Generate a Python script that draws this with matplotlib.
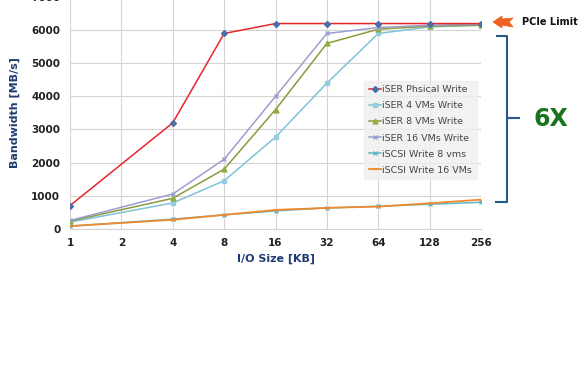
import numpy as np
import matplotlib.pyplot as plt
from matplotlib.patches import Polygon
from matplotlib.path import Path
from matplotlib.patches import PathPatch

sizes = ["1", "2", "4", "8", "16", "32", "64", "128", "256"]
measured = ["1", "4", "8", "16", "32", "64", "128", "256"]

iser_phys = [700, 3200, 5900, 6200, 6200, 6200, 6200, 6200]
iser_4vm = [200, 780, 1450, 2770, 4400, 5900, 6100, 6150]
iser_8vm = [230, 920, 1800, 3600, 5600, 6030, 6120, 6150]
iser_16vm = [250, 1050, 2100, 4000, 5900, 6080, 6150, 6180]
iscsi_8vm = [80, 290, 420, 540, 630, 680, 740, 800]
iscsi_16vm = [80, 270, 420, 570, 630, 670, 770, 880]

xpos = [sizes.index(s) for s in measured]

fig = plt.figure(figsize=(5.82, 3.66), dpi=100)
ax = fig.add_axes([0.1203, 0.375, 0.7062, 0.633])

ax.plot(xpos, iser_phys, color="#e8262b", lw=1.1, marker="D", ms=3,
        mfc="#4a6fa8", mec="#4a6fa8", label="iSER Phsical Write", zorder=6)
ax.plot(xpos, iser_4vm, color="#7fc3d6", lw=1.1, marker="s", ms=3.5,
        mfc="#94cde0", mec="#94cde0", label="iSER 4 VMs Write")
ax.plot(xpos, iser_8vm, color="#8a9a3c", lw=1.1, marker="^", ms=3.5,
        mfc="#8fae3e", mec="#8fae3e", label="iSER 8 VMs Write")
ax.plot(xpos, iser_16vm, color="#9a9fd0", lw=1.1, marker="x", ms=2.5,
        label="iSER 16 VMs Write")
ax.plot(xpos, iscsi_8vm, color="#5fb6c4", lw=1.1, marker="x", ms=3.5,
        mew=1.0, label="iSCSI Write 8 vms")
ax.plot(xpos, iscsi_16vm, color="#f08a2c", lw=1.3, marker="_", ms=3,
        label="iSCSI Write 16 VMs", zorder=4)

ax.set_xlim(0, len(sizes) - 1)
ax.set_ylim(0, 7000)
ax.set_xticks(range(len(sizes)))
ax.set_xticklabels(sizes)
ax.set_yticks(np.arange(0, 7001, 1000))
ax.grid(True, color="#d4d4d4", lw=0.8)
ax.set_axisbelow(True)
for s in ["top", "right", "left"]:
    ax.spines[s].set_visible(False)
ax.spines["bottom"].set_color("#d4d4d4")
ax.tick_params(length=0, labelsize=7.5, colors="#222222", pad=7)
for lbl in ax.get_xticklabels() + ax.get_yticklabels():
    lbl.set_fontweight("bold")

ax.set_xlabel("I/O Size [KB]", fontsize=8, fontweight="bold", color="#1f3b73", labelpad=4)
ax.set_ylabel("Bandwidth [MB/s]", fontsize=8, fontweight="bold", color="#1f3b73", labelpad=8)

leg = ax.legend(loc="upper left", bbox_to_anchor=(0.705, 0.66), fontsize=6.8,
                frameon=True, fancybox=False, handlelength=1.2, handletextpad=0.2,
                labelspacing=0.75, borderpad=0.5)
leg.get_frame().set_facecolor("#efefef")
leg.get_frame().set_edgecolor("#efefef")
for t in leg.get_texts():
    t.set_color("#444444")

# PCIe limit arrow (figure pixel coords)
W, H = 582, 366
arrow_px = [(493, 22), (502, 16), (502, 19), (513, 18), (509, 22), (513, 27), (502, 25), (502, 28)]
arrow = Polygon([(x / W, 1 - y / H) for x, y in arrow_px], closed=True,
                transform=fig.transFigure, facecolor="#f26322", edgecolor="#e85a1a", lw=0.5)
fig.add_artist(arrow)
fig.text(522 / W, 1 - 22 / H, "PCIe Limit", fontsize=7, fontweight="bold",
         color="#111111", va="center", ha="left")

# brace
brace_px = [(496, 36), (507, 36), (507, 118), (519, 118), (507, 118), (507, 202), (495, 202)]
verts = [(x / W, 1 - y / H) for x, y in brace_px]
codes = [Path.MOVETO] + [Path.LINETO] * (len(verts) - 1)
fig.add_artist(PathPatch(Path(verts, codes), transform=fig.transFigure,
                         facecolor="none", edgecolor="#2a5a8a", lw=1.5, joinstyle="round"))
fig.text(551 / W, 1 - 119 / H, "6X", fontsize=17, fontweight="bold",
         color="#18741e", va="center", ha="center")

fig.savefig("out.png", dpi=100)
